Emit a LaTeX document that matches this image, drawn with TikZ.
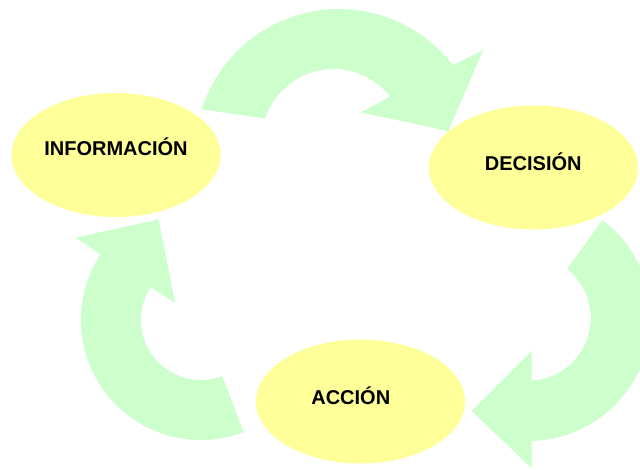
\documentclass[tikz,border=0pt]{standalone}
\usepackage{fontspec}
\setmainfont{Liberation Sans}
\usetikzlibrary{shapes.geometric}
\definecolor{arrowgreen}{HTML}{CCFFCC}
\definecolor{nodeyellow}{HTML}{FFFF99}
\begin{document}
\begin{tikzpicture}[x=1pt,y=-1pt,
  stage/.style={ellipse, fill=nodeyellow, minimum width=209pt, minimum height=124pt, inner sep=0pt},
  stagetext/.style={font=\bfseries\fontsize{20}{24}\selectfont, anchor=base, inner sep=0pt},
  cyclearrow/.style={fill=arrowgreen}]
\useasboundingbox (0,0) rectangle (640,469);
\clip (0,0) rectangle (640,469);
% top arrow: INFORMACION -> DECISION
\fill[cyclearrow] (201.7,109.5) arc[start angle=197.6, end angle=322.4, radius=144]
  -- (483.3,50) -- (448.3,131) -- (360.5,112.3) -- (390.2,96.6)
  arc[start angle=321.9, end angle=198.3, radius=72] -- cycle;
% right arrow: DECISION -> ACCION
\fill[cyclearrow] (602.4,220) arc[start angle=-52.8, end angle=88.3, radius=123]
  -- (531.7,468.3) -- (471.7,411) -- (531.7,350.7) -- (531.7,380.6)
  arc[start angle=86.6, end angle=-51.3, radius=62.7] -- cycle;
% left arrow: ACCION -> INFORMACION
\fill[cyclearrow] (243.7,432.1) arc[start angle=69.1, end angle=213.1, radius=120]
  -- (75.7,237.7) -- (158.7,219.3) -- (175,302.7) -- (150.6,287.2)
  arc[start angle=213.1, end angle=69.1, radius=60] -- cycle;
% stages
\node[stage] (info) at (116,155) {};
\node[stage] (dec) at (533.5,167.5) {};
\node[stage] (acc) at (360.5,401.5) {};
\node[stagetext] (infotext) at (116,155) {INFORMACIÓN};
\node[stagetext] (dectext) at (533.3,170.5) {DECISIÓN};
\node[stagetext] (acctext) at (350.8,404.5) {ACCIÓN};
\end{tikzpicture}
\end{document}
